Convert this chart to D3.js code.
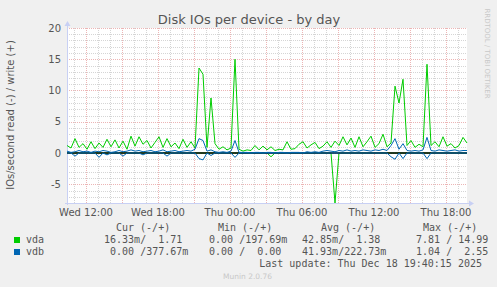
<!DOCTYPE html>
<html>
<head>
<meta charset="utf-8">
<title>Disk IOs per device - by day</title>
<script src="https://cdn.jsdelivr.net/npm/d3@7"></script>
<style>
  body { margin: 0; background: #f0f0f0; }
  svg { display: block; }
  .legend text { white-space: pre; }
</style>
</head>
<body>
<script>
// chart data, one sample every 20 minutes from Wed 10:25 to Thu 19:45
var startTime = new Date(2025, 11, 17, 10, 25);
var endTime = new Date(2025, 11, 18, 19, 45);
var stepMinutes = 20;

var vdaWrite = [1.2,0.8,2.3,0.9,1.5,0.6,1.8,0.7,1.6,0.9,
  2.2,1.0,2.1,0.8,1.9,0.6,2.7,1.1,2.6,1.4,
  2.0,0.8,1.7,2.6,0.9,2.3,1.0,1.6,0.7,2.2,
  0.9,1.8,0.8,13.6,12.6,0.9,8.8,1.5,0.6,1.0,
  0.5,0.8,15.0,0.6,0.3,0.5,0.4,1.2,0.5,1.1,
  0.5,1.0,0.4,0.6,0.5,1.8,0.6,0.7,1.4,1.8,
  0.8,1.3,1.7,0.7,1.1,1.8,0.9,1.9,1.2,2.6,
  1.3,2.4,0.9,2.6,1.0,1.8,2.7,0.9,1.5,3.0,
  1.0,1.6,10.7,8.0,11.8,1.2,2.0,0.9,1.4,1.0,
  14.2,1.2,1.8,1.0,2.6,1.1,1.5,0.8,1.2,2.5,
  1.6];
var vdaRead = [0,0,0,0,0,0,0,0,0,0,
  0,0,0,0,0,0,0,0,0,0,
  0,0,0,0,0,0,0,0,0,0,
  0,0,0,0,0,0,0,0,0,0,
  0,0,0,0,0,0,0,0,0,0,
  0,0.6,0,0,0,0,0,0,0,0,
  0,0,0,0,0,0,0,8.0,0,0,
  0,0,0,0,0,0,0,0,0,0,
  0,0,0,0,0,0,0,0,0,0,
  0,0,0,0,0,0,0,0,0,0,
  0];
var vdbWrite = [0.3,0.1,0.2,0.4,0.2,0.3,0.1,0.3,0.2,0.4,
  0.3,0.1,0.2,0.4,0.2,0.3,0.5,0.3,0.4,0.2,
  0.3,0.4,0.2,0.3,0.5,0.2,0.3,0.4,0.2,0.3,
  0.4,0.3,0.6,2.3,2.0,0.3,0.5,0.2,0.1,0.2,
  0.1,0.3,2.0,0.1,0.1,0.1,0.0,0.1,0.1,0.0,
  0.1,0.1,0.0,0.1,0.1,0.0,0.1,0.1,0.1,0.0,
  0.2,0.1,0.2,0.1,0.3,0.4,0.3,0.2,0.4,0.3,
  0.5,0.3,0.4,0.3,0.5,0.4,0.3,0.5,0.4,0.6,
  0.4,1.2,2.3,0.6,1.5,0.4,0.3,0.4,0.3,0.5,
  2.5,0.4,0.3,0.5,0.4,0.3,0.4,0.5,0.3,0.4,
  0.4];
var vdbRead = [0,0,0.5,0,0,0,0,0,0.7,0,
  0.3,0,0,0,0.5,0,0,0,0,0.3,
  0,0,0,0,0,0.5,0,0,0,0,
  0,0,0,0.9,1.1,0,0.4,0,0,0,
  0,0,0.7,0,0,0,0,0,0,0,
  0,0,0,0,0,0,0,0,0,0,
  0,0,0,0,0,0,0,0,0,0,
  0,0,0,0,0,0,0,0,0,0,
  0,0.6,1.0,0,0.9,0,0,0,0,0,
  0.9,0,0,0,0,0,0,0,0,0,
  0];

var yTicks = [-5, 0, 5, 10, 15, 20];
var yMin = -8, yMax = 20;

// legend table
var fieldNames = ["vda", "vdb"];
var fieldColors = ["#00cc00", "#0066b3"];
var legendHeads = ["Cur (-/+)", "Min (-/+)", "Avg (-/+)", "Max (-/+)"];
var curVals = [" 16.33m/  1.71", "  0.00 /377.67m"];
var minVals = ["  0.00 /197.69m", "  0.00 /  0.00"];
var avgVals = [" 42.85m/  1.38", " 41.93m/222.73m"];
var maxVals = ["  7.81 / 14.99", "  1.04 /  2.55"];
var lastUpdate = "Last update: Thu Dec 18 19:40:15 2025";

var width = 497, height = 287;
var plot = {left: 67, top: 28, width: 400, height: 175};

var svg = d3.select("body").append("svg")
    .attr("width", width)
    .attr("height", height)
    .style("font-family", "'DejaVu Sans', sans-serif");

svg.append("rect").attr("width", width).attr("height", height).attr("fill", "#f0f0f0");

var x = d3.scaleTime().domain([startTime, endTime]).range([plot.left, plot.left + plot.width]);
var y = d3.scaleLinear().domain([yMin, yMax]).range([plot.top + plot.height, plot.top]);

// white canvas
svg.append("rect")
    .attr("x", plot.left).attr("y", plot.top)
    .attr("width", plot.width).attr("height", plot.height)
    .attr("fill", "#ffffff");

// grid: minor every hour / every unit, major every 3 hours / every 5 units
var minorColor = "rgba(150,150,150,0.4)", majorColor = "rgba(220,120,120,0.55)";
var hours = d3.timeHour.range(startTime, endTime);
var grid = svg.append("g").attr("stroke-dasharray", "1,1").attr("stroke-width", 1);

grid.selectAll(".vgrid").data(hours).enter().append("line")
    .attr("x1", function(d) { return Math.round(x(d)) + 0.5; })
    .attr("x2", function(d) { return Math.round(x(d)) + 0.5; })
    .attr("y1", plot.top).attr("y2", plot.top + plot.height)
    .attr("stroke", function(d) { return d.getHours() % 3 === 0 ? majorColor : minorColor; });

grid.selectAll(".hgrid").data(d3.range(yMin + 1, yMax + 1)).enter().append("line")
    .attr("x1", plot.left).attr("x2", plot.left + plot.width)
    .attr("y1", function(d) { return Math.round(y(d)) + 0.5; })
    .attr("y2", function(d) { return Math.round(y(d)) + 0.5; })
    .attr("stroke", function(d) { return d % 5 === 0 ? majorColor : minorColor; });

// axis lines with arrows
var axisColor = "#c8d0f4";
svg.append("line")
    .attr("x1", plot.left + 0.5).attr("x2", plot.left + 0.5)
    .attr("y1", plot.top + plot.height + 2).attr("y2", plot.top - 3)
    .attr("stroke", axisColor);
svg.append("path")
    .attr("d", "M" + (plot.left + 0.5) + "," + (plot.top - 7) + "l-3,5h6z")
    .attr("fill", axisColor);
svg.append("line")
    .attr("x1", plot.left - 2).attr("x2", plot.left + plot.width + 3)
    .attr("y1", plot.top + plot.height + 0.5).attr("y2", plot.top + plot.height + 0.5)
    .attr("stroke", axisColor);
svg.append("path")
    .attr("d", "M" + (plot.left + plot.width + 7) + "," + (plot.top + plot.height + 0.5) + "l-5,-3v6z")
    .attr("fill", axisColor);

// series
var times = vdaWrite.map(function(d, i) { return d3.timeMinute.offset(startTime, i * stepMinutes); });
var line = d3.line()
    .x(function(d, i) { return x(times[i]); })
    .y(function(d) { return y(d); });

function drawSeries(values, sign, color) {
  svg.append("path")
      .datum(values.map(function(v) { return sign * v; }))
      .attr("d", line)
      .attr("fill", "none")
      .attr("stroke", color)
      .attr("stroke-width", 1)
      .attr("stroke-linejoin", "round");
}

drawSeries(vdaRead, -1, fieldColors[0]);
drawSeries(vdaWrite, 1, fieldColors[0]);

// zero line
svg.append("line")
    .attr("x1", plot.left).attr("x2", plot.left + plot.width)
    .attr("y1", y(0)).attr("y2", y(0))
    .attr("stroke", "#000").attr("stroke-width", 1.5);

drawSeries(vdbRead, -1, fieldColors[1]);
drawSeries(vdbWrite, 1, fieldColors[1]);

// y tick labels
svg.selectAll(".ylab").data(yTicks).enter().append("text")
    .attr("x", 61)
    .attr("y", function(d) { return y(d); })
    .attr("dy", "0.36em")
    .attr("text-anchor", "end")
    .attr("font-size", "10px")
    .attr("fill", "#555")
    .text(function(d) { return d; });

// x tick labels
var fmt = d3.timeFormat("%a %H:%M");
svg.selectAll(".xlab").data(d3.timeHour.every(6).range(startTime, endTime)).enter().append("text")
    .attr("x", function(d) { return x(d); })
    .attr("y", 216)
    .attr("text-anchor", "middle")
    .attr("font-size", "10px")
    .attr("fill", "#555")
    .text(function(d) { return fmt(d); });

// title
svg.append("text")
    .attr("x", 249).attr("y", 23.5)
    .attr("text-anchor", "middle")
    .attr("font-size", "13px")
    .attr("fill", "#555")
    .text("Disk IOs per device - by day");

// vertical axis title
svg.append("text")
    .attr("transform", "translate(13.5,115) rotate(-90)")
    .attr("text-anchor", "middle")
    .attr("font-size", "10px")
    .attr("fill", "#555")
    .text("IOs/second read (-) / write (+)");

// watermarks
svg.append("text")
    .attr("transform", "translate(485,53.5) rotate(90)")
    .attr("text-anchor", "middle")
    .attr("font-size", "7px")
    .attr("fill", "#c8c8c8")
    .text("RRDTOOL / TOBI OETIKER");
svg.append("text")
    .attr("x", 247.5).attr("y", 279)
    .attr("text-anchor", "middle")
    .attr("font-size", "7.5px")
    .attr("fill", "#c8c8c8")
    .text("Munin 2.0.76");

// legend (monospace, keep the padding spaces)
var legend = svg.append("g")
    .attr("class", "legend")
    .style("font-family", "'DejaVu Sans Mono', monospace")
    .attr("font-size", "10px")
    .attr("fill", "#555");

function keepSpaces(s) { return s.replace(/ /g, "\u00a0"); }

var headX = [116, 218, 321, 423];
var colX = [98, 197, 296, 404];
var columns = [curVals, minVals, avgVals, maxVals];

legend.selectAll(".head").data(legendHeads).enter().append("text")
    .attr("x", function(d, i) { return headX[i]; })
    .attr("y", 231)
    .text(function(d) { return d; });

fieldNames.forEach(function(name, r) {
  var rowY = 243 + r * 12;
  legend.append("rect")
      .attr("x", 14).attr("y", rowY - 6)
      .attr("width", 6).attr("height", 6)
      .attr("fill", fieldColors[r]);
  legend.append("text").attr("x", 26).attr("y", rowY).text(name);
  columns.forEach(function(col, c) {
    legend.append("text").attr("x", colX[c]).attr("y", rowY).text(keepSpaces(col[r]));
  });
});

legend.append("text")
    .attr("x", 482).attr("y", 267)
    .attr("text-anchor", "end")
    .text(lastUpdate);
</script>
</body>
</html>
